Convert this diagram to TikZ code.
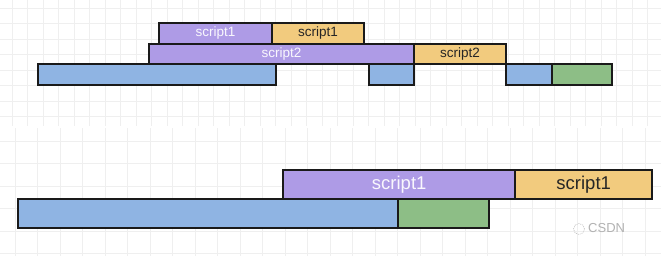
\documentclass[tikz,border=0pt]{standalone}
\usepackage{fontspec}
\setmainfont{Liberation Sans}
\definecolor{purp}{HTML}{AE9BE6}
\definecolor{orng}{HTML}{F2CB7E}
\definecolor{blu}{HTML}{8FB4E3}
\definecolor{grn}{HTML}{8DBE86}
\definecolor{edge}{HTML}{1A1A1A}
\definecolor{gridc}{HTML}{EFEFEF}
\begin{document}
\begin{tikzpicture}[x=1pt,y=-1pt,
  bar/.style={draw=edge,line width=1.8pt,inner sep=0pt,anchor=north west},
  bigbar/.style={draw=edge,line width=2.4pt,inner sep=0pt,anchor=north west},
  ptxt/.style={text=white!92!purp},
  otxt/.style={text=black!85},
  small/.style={font=\fontsize{13.5}{15}\selectfont},
  large/.style={font=\fontsize{18.5}{20}\selectfont},
]
\useasboundingbox (0,0) rectangle (661,256);
\fill[white] (0,0) rectangle (661,256);
% grids
\draw[gridc,line width=0.5pt,shift={(12,8)}] (-12,-8) grid[step=15.5pt] (649,118);
\draw[gridc,line width=0.6pt,shift={(15,141)}] (-15,-13) grid[step=22.5pt] (646,115);
% top section
\node[bar,fill=purp,minimum width=113pt,minimum height=21pt,small,ptxt] (s1a) at (158,22) {script1};
\node[bar,fill=orng,minimum width=92pt,minimum height=21pt,small,otxt] (s1b) at (271,22) {script1};
\node[bar,fill=purp,minimum width=265pt,minimum height=20pt,small,ptxt] (s2a) at (148,43) {script2};
\node[bar,fill=orng,minimum width=92pt,minimum height=20pt,small,otxt] (s2b) at (413,43) {script2};
\node[bar,fill=blu,minimum width=238pt,minimum height=21pt] (b1) at (37,63) {};
\node[bar,fill=blu,minimum width=45pt,minimum height=21pt] (b2) at (368,63) {};
\node[bar,fill=blu,minimum width=46pt,minimum height=21pt] (b3) at (505,63) {};
\node[bar,fill=grn,minimum width=60pt,minimum height=21pt] (g1) at (551,63) {};
% bottom section
\node[bigbar,fill=purp,minimum width=232pt,minimum height=29pt,large,ptxt] (s3a) at (282,169) {script1};
\node[bigbar,fill=orng,minimum width=137pt,minimum height=29pt,large,otxt] (s3b) at (514,169) {script1};
\node[bigbar,fill=blu,minimum width=380pt,minimum height=29pt] (b4) at (17,198) {};
\node[bigbar,fill=grn,minimum width=91pt,minimum height=29pt] (g2) at (397,198) {};
% watermark
\node[text=black!30,font=\fontsize{13}{14}\selectfont,anchor=west,inner sep=0pt] (wm) at (588,228) {CSDN};
\draw[black!25,line width=0.6pt,dash pattern=on 1pt off 1pt] (579,229) circle (5.5pt);
\end{tikzpicture}
\end{document}
